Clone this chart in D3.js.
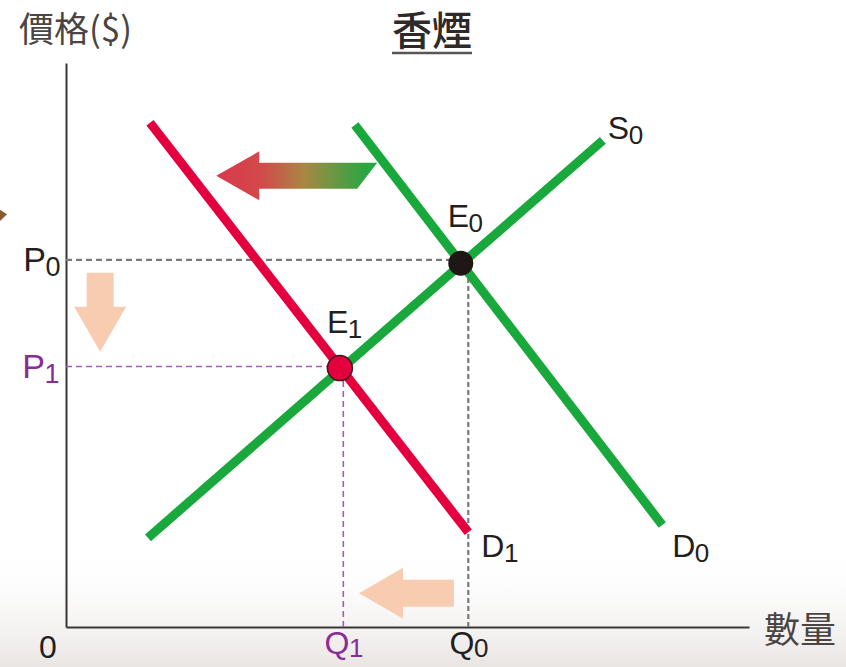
<!DOCTYPE html>
<html>
<head>
<meta charset="utf-8">
<script src="https://cdn.jsdelivr.net/npm/d3@7"></script>
<style>
  html, body { margin: 0; padding: 0; background: #fff; }
  svg { display: block; }
  text { font-family: "Liberation Sans", Arial, sans-serif; }
  .cjk { font-family: "Noto Sans CJK TC", "Noto Sans CJK SC", sans-serif; }
</style>
</head>
<body>
<svg id="chart" width="846" height="667"></svg>
<script>
// ---------------- data (quantity 0-100, price 0-100) ----------------
const title = "香煙";
const yAxisLabel = "價格($)";
const xAxisLabel = "數量";

const curveNames = ["S0", "D0", "D1"];
const supplyS0 = [[12.0, 15.8], [78.6, 86.3]];
const demandD0 = [[42.3, 89.0], [87.3, 18.1]];
const demandD1 = [[12.3, 89.4], [58.9, 16.8]];

const equilibriumNames = ["E0", "E1"];
const equilibriumQ = [57.8, 40.1];
const equilibriumP = [64.5, 45.9];

const priceTickLabels = ["P0", "P1"];
const priceTicks = [65.1, 46.2];
const quantityTickLabels = ["Q1", "Q0"];
const quantityTicks = [40.6, 58.9];

// arrows: [x, y] tail -> tip in data units
const demandShiftArrow = [[44.1, 80.0], [22.0, 80.0]];
const priceFallArrow = [[5.0, 62.8], [5.0, 48.8]];
const quantityFallArrow = [[56.8, 6.0], [42.9, 6.0]];

// ---------------- drawing ----------------
const svg = d3.select("#chart");
const x = d3.scaleLinear().domain([0, 100]).range([66, 749]);
const y = d3.scaleLinear().domain([0, 100]).range([627, 63]);

const GREEN = "#19a83c", RED = "#e4003f", PURPLE = "#8a2c98";
const defs = svg.append("defs");

// faint photo-like background at the bottom
const bg = defs.append("linearGradient").attr("id", "bgGrad")
  .attr("x1", 0).attr("y1", 0).attr("x2", 0).attr("y2", 1);
bg.append("stop").attr("offset", "0%").attr("stop-color", "#ffffff").attr("stop-opacity", 0);
bg.append("stop").attr("offset", "100%").attr("stop-color", "#e9e5e3").attr("stop-opacity", 1);
svg.append("rect").attr("x", 0).attr("y", y(15)).attr("width", 846).attr("height", 667 - y(15))
  .attr("fill", "url(#bgGrad)");

// small brown mark at left edge
svg.append("path")
  .attr("d", d3.line()([[0, y(74.0)], [7, y(73.2)], [0, y(72.0)]]) + "Z")
  .attr("fill", "#8a5a2a");

// gradient for shift arrow
const ag = defs.append("linearGradient").attr("id", "arrowGrad")
  .attr("gradientUnits", "userSpaceOnUse")
  .attr("x1", x(demandShiftArrow[1][0])).attr("x2", x(demandShiftArrow[0][0]))
  .attr("y1", 0).attr("y2", 0);
ag.append("stop").attr("offset", "0%").attr("stop-color", "#d9394c");
ag.append("stop").attr("offset", "30%").attr("stop-color", "#d2494a");
ag.append("stop").attr("offset", "58%").attr("stop-color", "#a98744");
ag.append("stop").attr("offset", "100%").attr("stop-color", "#25a841");

function arrowPoly(tail, tip, shaftW, headW, headL, slant) {
  const t = [x(tail[0]), y(tail[1])], p = [x(tip[0]), y(tip[1])];
  const dx = p[0] - t[0], dy = p[1] - t[1];
  const L = Math.hypot(dx, dy);
  const ux = dx / L, uy = dy / L, nx = -uy, ny = ux;
  const hb = [p[0] - ux * headL, p[1] - uy * headL];
  const s = slant || 0;
  const pts = [
    p,
    [hb[0] + nx * headW / 2, hb[1] + ny * headW / 2],
    [hb[0] + nx * shaftW / 2, hb[1] + ny * shaftW / 2],
    [t[0] + nx * shaftW / 2 - ux * s, t[1] + ny * shaftW / 2 - uy * s],
    [t[0] - nx * shaftW / 2 + ux * s, t[1] - ny * shaftW / 2 + uy * s],
    [hb[0] - nx * shaftW / 2, hb[1] - ny * shaftW / 2],
    [hb[0] - nx * headW / 2, hb[1] - ny * headW / 2]
  ];
  return d3.line()(pts) + "Z";
}

svg.append("path").attr("d", arrowPoly(demandShiftArrow[0], demandShiftArrow[1], 26, 49, 43, 10))
  .attr("fill", "url(#arrowGrad)");
svg.append("path").attr("d", arrowPoly(priceFallArrow[0], priceFallArrow[1], 27, 52, 45, 0))
  .attr("fill", "#f8ccb1");
svg.append("path").attr("d", arrowPoly(quantityFallArrow[0], quantityFallArrow[1], 27, 51, 44, 0))
  .attr("fill", "#f8ccb1");

// axes
const xAxis = svg.append("g").attr("transform", `translate(0,${y(0)})`)
  .call(d3.axisBottom(x).tickValues([]).tickSizeOuter(0));
const yAxis = svg.append("g").attr("transform", `translate(${x(0)},0)`)
  .call(d3.axisLeft(y).tickValues([]).tickSizeOuter(0));
[xAxis, yAxis].forEach(a => a.select(".domain").attr("stroke", "#3b3634").attr("stroke-width", 2));

// guide lines
const guideColors = ["#7a7a7a", "#a45cb8"];
svg.append("line").attr("x1", x(0)).attr("x2", x(equilibriumQ[0])).attr("y1", y(priceTicks[0])).attr("y2", y(priceTicks[0]))
  .attr("stroke", guideColors[0]).attr("stroke-width", 2.2).attr("stroke-dasharray", "6,4");
svg.append("line").attr("x1", x(quantityTicks[1])).attr("x2", x(quantityTicks[1])).attr("y1", y(0)).attr("y2", y(equilibriumP[0]))
  .attr("stroke", guideColors[0]).attr("stroke-width", 2.2).attr("stroke-dasharray", "5,3");
svg.append("line").attr("x1", x(0)).attr("x2", x(equilibriumQ[1])).attr("y1", y(priceTicks[1])).attr("y2", y(priceTicks[1]))
  .attr("stroke", guideColors[1]).attr("stroke-width", 1.6).attr("stroke-dasharray", "6,4");
svg.append("line").attr("x1", x(quantityTicks[0])).attr("x2", x(quantityTicks[0])).attr("y1", y(0)).attr("y2", y(equilibriumP[1]))
  .attr("stroke", guideColors[1]).attr("stroke-width", 1.6).attr("stroke-dasharray", "6,4");

// curves
const line = d3.line().x(d => x(d[0])).y(d => y(d[1]));
const curves = [supplyS0, demandD0, demandD1];
const curveColors = [GREEN, GREEN, RED];
curves.forEach((c, i) => {
  svg.append("path").attr("d", line(c)).attr("fill", "none")
    .attr("stroke", curveColors[i]).attr("stroke-width", 9).attr("stroke-linecap", "butt");
});

// equilibrium points
svg.append("circle").attr("cx", x(equilibriumQ[0])).attr("cy", y(equilibriumP[0])).attr("r", 12.5)
  .attr("fill", "#1e1716");
svg.append("circle").attr("cx", x(equilibriumQ[1])).attr("cy", y(equilibriumP[1])).attr("r", 12.5)
  .attr("fill", "#e3003e").attr("stroke", "#3a1a1a").attr("stroke-width", 1.5);

// subscript label helper
function subLabel(px, py, main, sub, color, size, subSize, anchor, subDy) {
  const t = svg.append("text").attr("x", px).attr("y", py).attr("fill", color)
    .attr("font-size", size).attr("text-anchor", anchor || "start")
    .attr("letter-spacing", -1.5);
  t.append("tspan").text(main);
  t.append("tspan").attr("font-size", subSize).attr("dy", subDy == null ? 5 : subDy).attr("dx", 1).text(sub);
  return t;
}
const DARK = "#231f1e";
// price ticks
subLabel(x(0) - 7, y(priceTicks[0]) + 11, priceTickLabels[0][0], priceTickLabels[0][1], DARK, 34, 27, "end");
subLabel(x(0) - 8, y(priceTicks[1]) + 12, priceTickLabels[1][0], priceTickLabels[1][1], PURPLE, 34, 27, "end");
// quantity ticks
subLabel(x(quantityTicks[0]), y(0) + 27, quantityTickLabels[0][0], quantityTickLabels[0][1], PURPLE, 32, 26, "middle", 3);
subLabel(x(quantityTicks[1]), y(0) + 27, quantityTickLabels[1][0], quantityTickLabels[1][1], DARK, 32, 26, "middle", 3);
svg.append("text").attr("x", x(0) - 18).attr("y", y(0) + 31).attr("font-size", 32)
  .attr("fill", DARK).attr("text-anchor", "middle").text("0");

// equilibrium labels
subLabel(x(equilibriumQ[0]) - 13, y(equilibriumP[0]) - 36, equilibriumNames[0][0], equilibriumNames[0][1], DARK, 32, 26);
subLabel(x(equilibriumQ[1]) - 13, y(equilibriumP[1]) - 35, equilibriumNames[1][0], equilibriumNames[1][1], DARK, 32, 26);

// curve labels
subLabel(x(supplyS0[1][0]) + 5, y(supplyS0[1][1]) - 1, curveNames[0][0], curveNames[0][1], DARK, 32, 26);
subLabel(x(demandD0[1][0]) + 10, y(demandD0[1][1]) + 32, curveNames[1][0], curveNames[1][1], DARK, 32, 26);
subLabel(x(demandD1[1][0]) + 13, y(demandD1[1][1]) + 25, curveNames[2][0], curveNames[2][1], DARK, 32, 26);

// axis titles
svg.append("text").attr("class", "cjk").attr("x", 19).attr("y", 42).attr("font-size", 35)
  .attr("fill", "#4a4543").text(yAxisLabel);
svg.append("text").attr("class", "cjk").attr("x", 764).attr("y", 643).attr("font-size", 36)
  .attr("fill", "#4a4543").text(xAxisLabel);

// title with underline
const tt = svg.append("text").attr("class", "cjk").attr("x", 392).attr("y", 45).attr("font-size", 40)
  .attr("fill", "#2f2a29").attr("font-weight", 500).text(title);
const bb = tt.node().getBBox();
svg.append("line").attr("x1", bb.x).attr("x2", bb.x + bb.width).attr("y1", 53).attr("y2", 53)
  .attr("stroke", "#5a5453").attr("stroke-width", 2.5);
</script>
</body>
</html>
